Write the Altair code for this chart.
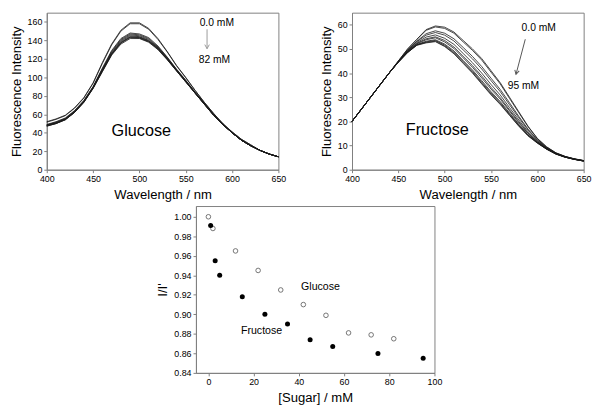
import altair as alt
import pandas as pd

FONT = "Liberation Sans"

# ---------------- data ----------------
wavelengths = [400, 410, 420, 430, 440, 450, 460, 470, 480, 490, 500, 510, 520,
               530, 540, 550, 560, 570, 580, 590, 600, 610, 620, 630, 640, 650]

glucose_conc = [0, 2, 12, 22, 32, 42, 52, 62, 72, 82]
g_0 = [52, 55, 59, 67, 78, 94, 116, 136, 151, 159, 159, 153, 142, 128, 113, 100, 86, 73, 61, 50, 41, 33, 27, 21, 17, 14]
g_2 = [51.5, 54.5, 58.5, 66.5, 77.5, 93.5, 115, 135, 150, 158, 158, 152, 141, 127.5, 112.5, 99.5, 86, 73, 61, 50, 41, 33, 27, 21, 17, 14]
g_12 = [49, 52, 56, 64, 75, 90, 110, 129, 142, 148, 147, 143, 134, 122, 109, 97, 84, 72, 60, 49, 40, 32, 26, 21, 17, 14]
g_22 = [48.5, 51.5, 55.5, 63.5, 74.5, 89.5, 109, 128, 141, 147, 146, 142, 133, 121.5, 108.5, 96.5, 84, 72, 60, 49, 40, 32, 26, 21, 17, 14]
g_32 = [48.5, 51, 55, 63, 74, 89, 108.5, 127, 140, 146, 145, 141, 132.5, 121, 108, 96, 83.5, 71.5, 59.5, 49, 40, 32, 26, 21, 17, 14]
g_42 = [48, 50.5, 55, 62.5, 73.5, 89, 108, 126, 139, 145, 144, 140, 132, 120.5, 108, 96, 83.5, 71.5, 59.5, 49, 40, 32, 26, 21, 17, 14]
g_52 = [48, 50.5, 54.5, 62.5, 73.5, 88.5, 107.5, 125.5, 138, 144, 143.5, 139.5, 131.5, 120, 107.5, 95.5, 83, 71, 59, 49, 40, 32, 26, 21, 17, 14]
g_62 = [47.5, 50, 54.5, 62, 73, 88.5, 107, 125, 137.5, 143.5, 143, 139, 131, 119.5, 107.5, 95.5, 83, 71, 59, 49, 40, 32, 26, 21, 17, 14]
g_72 = [47.5, 50, 54, 62, 73, 88, 106.5, 124.5, 137, 143, 142.5, 138.5, 130.5, 119.5, 107, 95, 83, 71, 59, 49, 40, 32, 26, 21, 17, 14]
g_82 = [47, 50, 54, 62, 73, 88, 106, 124, 136, 142, 142, 138, 130, 119, 107, 95, 83, 71, 59, 49, 40, 32, 26, 21, 17, 14]
glucose_spectra = [g_0, g_2, g_12, g_22, g_32, g_42, g_52, g_62, g_72, g_82]

fructose_conc = [0, 1, 3, 5, 15, 25, 35, 45, 55, 75, 95]
f_0 = [20, 25, 30, 35, 40, 45, 50, 54, 58, 59.5, 59, 57, 53.5, 50, 46, 41, 36, 30, 24, 18, 13, 9.5, 7, 5.5, 4.5, 3.8]
f_1 = [20, 25, 30, 35, 40, 45, 49.9, 53.9, 57.7, 59.1, 58.5, 56.5, 52.9, 49.4, 45.4, 40.4, 35.5, 29.5, 23.6, 17.8, 12.9, 9.4, 7, 5.5, 4.5, 3.8]
f_3 = [20, 25, 30, 35, 40, 44.8, 49.5, 53.2, 56.3, 57.5, 56.5, 54.2, 50.6, 46.9, 42.7, 37.9, 33.2, 27.7, 22.1, 16.8, 12.4, 9.2, 6.8, 5.4, 4.4, 3.7]
f_5 = [20, 25, 30, 35, 40, 44.8, 49.4, 53, 55.7, 56.8, 55.7, 53.3, 49.6, 45.9, 41.7, 36.9, 32.3, 26.9, 21.5, 16.4, 12.2, 9.1, 6.8, 5.4, 4.4, 3.7]
f_15 = [20, 25, 30, 35, 40, 44.7, 49.1, 52.6, 54.9, 55.8, 54.4, 51.9, 48.1, 44.3, 40, 35.3, 30.9, 25.7, 20.6, 15.7, 11.9, 8.9, 6.7, 5.3, 4.4, 3.7]
f_25 = [20, 25, 30, 35, 40, 44.7, 49, 52.3, 54.2, 55, 53.5, 50.8, 46.9, 43.1, 38.8, 34.1, 29.8, 24.8, 19.9, 15.2, 11.6, 8.8, 6.7, 5.3, 4.4, 3.7]
f_35 = [20, 25, 30, 35, 40, 44.6, 48.9, 52.1, 53.8, 54.6, 52.9, 50.2, 46.3, 42.4, 38, 33.4, 29.2, 24.3, 19.4, 15, 11.5, 8.7, 6.6, 5.3, 4.3, 3.6]
f_45 = [20, 25, 30, 35, 40, 44.6, 48.7, 51.8, 53.2, 53.8, 52, 49.2, 45.2, 41.3, 36.9, 32.3, 28.2, 23.5, 18.8, 14.5, 11.3, 8.6, 6.6, 5.2, 4.3, 3.6]
f_55 = [20, 25, 30, 35, 40, 44.5, 48.6, 51.7, 52.9, 53.5, 51.6, 48.7, 44.8, 40.8, 36.3, 31.8, 27.7, 23.1, 18.5, 14.3, 11.2, 8.6, 6.5, 5.2, 4.3, 3.6]
f_75 = [20, 25, 30, 35, 40, 44.5, 48.5, 51.6, 52.7, 53.2, 51.2, 48.3, 44.3, 40.3, 35.8, 31.3, 27.3, 22.7, 18.2, 14.1, 11.1, 8.5, 6.5, 5.2, 4.3, 3.6]
f_95 = [20, 25, 30, 35, 40, 44.5, 48.5, 51.5, 52.5, 53, 51, 48, 44, 40, 35.5, 31, 27, 22.5, 18, 14, 11, 8.5, 6.5, 5.2, 4.3, 3.6]
fructose_spectra = [f_0, f_1, f_3, f_5, f_15, f_25, f_35, f_45, f_55, f_75, f_95]

glu_sugar = [0, 2, 12, 22, 32, 42, 52, 62, 72, 82]
glu_ratio = [1.000, 0.988, 0.965, 0.945, 0.925, 0.910, 0.899, 0.881, 0.879, 0.875]
fru_sugar = [1, 3, 5, 15, 25, 35, 45, 55, 75, 95]
fru_ratio = [0.991, 0.955, 0.940, 0.918, 0.900, 0.890, 0.874, 0.867, 0.860, 0.855]

wl_ticks = [400, 450, 500, 550, 600, 650]
glu_int_ticks = [0, 20, 40, 60, 80, 100, 120, 140, 160]
fru_int_ticks = [0, 10, 20, 30, 40, 50, 60]
sugar_ticks = [0, 20, 40, 60, 80, 100]
ratio_ticks = [0.84, 0.86, 0.88, 0.90, 0.92, 0.94, 0.96, 0.98, 1.00]


def spectra_frame(concs, spectra):
    rows = []
    for c, s in zip(concs, spectra):
        for w, v in zip(wavelengths, s):
            rows.append({"wavelength": w, "intensity": v, "conc": c})
    return pd.DataFrame(rows)


def spectrum_panel(df, ydomain, yticks, labels, arrow, arrow_color, arrow_angle, name_label):
    xs = alt.X("wavelength:Q", scale=alt.Scale(domain=[400, 650], nice=False),
               axis=alt.Axis(values=wl_ticks, tickCount=len(wl_ticks), title="Wavelength / nm"))
    ys = alt.Y("intensity:Q", scale=alt.Scale(domain=ydomain, nice=False),
               axis=alt.Axis(values=yticks, tickCount=len(yticks), title="Fluorescence Intensity"))
    lines = alt.Chart(df).mark_line(color="#1a1a1a", strokeWidth=0.8).encode(
        x=xs, y=ys, detail="conc:N")
    lab_df = pd.DataFrame(labels)
    lab = alt.Chart(lab_df).mark_text(align="left", baseline="middle", fontSize=10.5,
                                      font=FONT, color="#000").encode(
        x="x:Q", y="y:Q", text="t:N")
    arr_df = pd.DataFrame([arrow])
    shaft = alt.Chart(arr_df).mark_rule(color=arrow_color, strokeWidth=1).encode(
        x="x:Q", y="y:Q", x2="x2:Q", y2="y2:Q")
    head = alt.Chart(arr_df).mark_point(
        shape="M-0.55,-1L0,0L0.55,-1", filled=False, size=70, color=arrow_color,
        strokeWidth=1, opacity=1, angle=arrow_angle).encode(x="x2:Q", y="y2:Q")
    name_df = pd.DataFrame([name_label])
    name = alt.Chart(name_df).mark_text(align="left", baseline="middle", fontSize=16.5,
                                        font=FONT, color="#000").encode(
        x="x:Q", y="y:Q", text="t:N")
    return alt.layer(lines, shaft, head, lab, name)


glu_df = spectra_frame(glucose_conc, glucose_spectra)
fru_df = spectra_frame(fructose_conc, fructose_spectra)

top_left = spectrum_panel(
    glu_df, [0, 170], glu_int_ticks,
    [{"x": 565, "y": 158.5, "t": "0.0 mM"}, {"x": 564, "y": 118.5, "t": "82 mM"}],
    {"x": 573, "y": 152, "x2": 573, "y2": 131}, "#9a9a9a", 0,
    {"x": 470, "y": 42, "t": "Glucose"},
).properties(width=236, height=160)

top_right = spectrum_panel(
    fru_df, [0, 65], fru_int_ticks,
    [{"x": 583, "y": 58.6, "t": "0.0 mM"}, {"x": 568, "y": 34.6, "t": "95 mM"}],
    {"x": 587, "y": 54, "x2": 577, "y2": 39.5}, "#555555", 14,
    {"x": 458, "y": 16.3, "t": "Fructose"},
).properties(width=236, height=160)

glu_pts = pd.DataFrame({"sugar": glu_sugar, "ratio": glu_ratio})
fru_pts = pd.DataFrame({"sugar": fru_sugar, "ratio": fru_ratio})
bx = alt.X("sugar:Q", scale=alt.Scale(domain=[-5.5, 100], nice=False),
           axis=alt.Axis(values=sugar_ticks, tickCount=len(sugar_ticks), title="[Sugar] / mM"))
by = alt.Y("ratio:Q", scale=alt.Scale(domain=[0.84, 1.011], nice=False, zero=False),
           axis=alt.Axis(values=ratio_ticks, tickCount=len(ratio_ticks), format=".2f", title="I/I'"))
open_pts = alt.Chart(glu_pts).mark_point(shape="circle", filled=False, size=22,
                                         color="#666666", strokeWidth=0.9, opacity=1).encode(x=bx, y=by)
fill_pts = alt.Chart(fru_pts).mark_circle(size=26, color="#000000", opacity=1).encode(x=bx, y=by)
sc_labels = pd.DataFrame({"sugar": [41, 14.4], "ratio": [0.928, 0.883], "t": ["Glucose", "Fructose"]})
sc_text = alt.Chart(sc_labels).mark_text(align="left", baseline="middle", fontSize=10.8,
                                         font=FONT, color="#000").encode(
    x="sugar:Q", y="ratio:Q", text="t:N")
bottom = alt.layer(open_pts, fill_pts, sc_text).properties(width=243, height=170)

chart = alt.vconcat(
    alt.hconcat(top_left, top_right, spacing=32),
    bottom,
    spacing=4,
    center=True,
).properties(padding=0).configure(font=FONT).configure_view(
    stroke="#808080", strokeWidth=1
).configure_axis(
    grid=False, domainColor="#808080", tickColor="#808080", tickSize=3,
    labelFont=FONT, titleFont=FONT, labelFontSize=9, titleFontSize=13.3,
    titleFontWeight="normal", labelColor="#000", titleColor="#000",
    labelPadding=2, titlePadding=4, labelOverlap=False, labelFlush=False,
)

chart.save("out.html", embed_options={"renderer": "svg", "actions": False})
